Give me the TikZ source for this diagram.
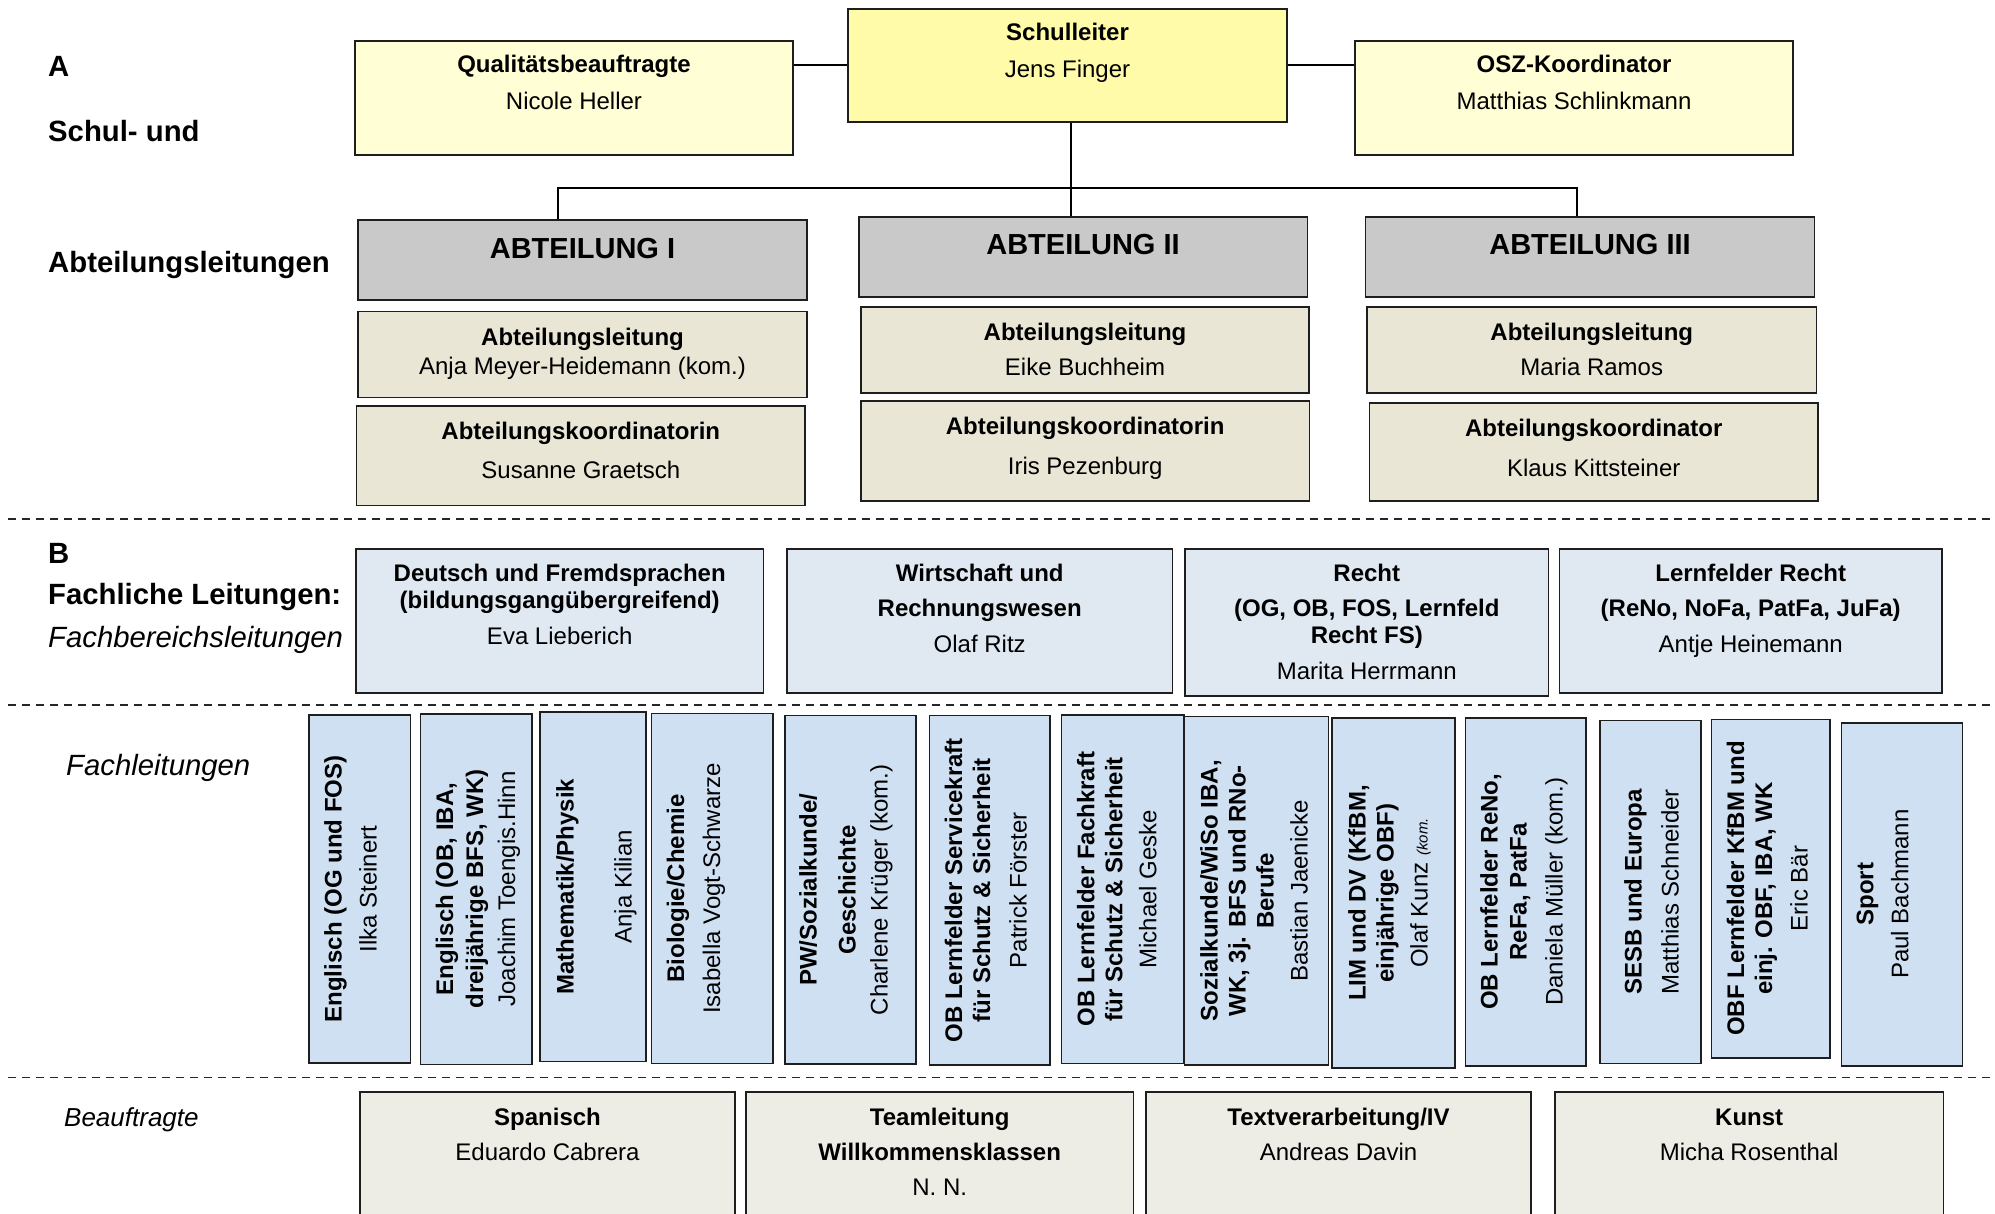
\documentclass[tikz,border=0pt]{standalone}
\usepackage{fontspec}
\setmainfont{Liberation Sans}
\usetikzlibrary{fit}
\definecolor{slyellow}{RGB}{255,251,168}
\definecolor{qyellow}{RGB}{255,254,212}
\definecolor{abtgray}{RGB}{201,201,201}
\definecolor{beigec}{RGB}{233,230,213}
\definecolor{bblue}{RGB}{224,232,242}
\definecolor{fblue}{RGB}{207,224,242}
\definecolor{bottomc}{RGB}{238,237,229}
\definecolor{edgec}{RGB}{30,30,30}
\newcommand\hs{\rule{0pt}{19pt}}
\begin{document}
\begin{tikzpicture}[x=1pt,y=-1pt,
  box/.style={draw=edgec, line width=1.6pt, inner sep=0pt},
  ht/.style={align=center, inner sep=0pt, anchor=north, font=\fontsize{24}{27}\selectfont},
  vt/.style={align=center, inner sep=0pt, anchor=north, rotate=90, font=\fontsize{24}{28}\selectfont},
  lab/.style={anchor=west, inner sep=0pt, text height=20.8pt, text depth=0pt, font=\bfseries\fontsize{29.3}{34}\selectfont},
  ilab/.style={anchor=west, inner sep=0pt, text height=20.8pt, text depth=0pt, font=\itshape\fontsize{29.3}{34}\selectfont},
  abtt/.style={inner sep=0pt, text height=20.8pt, text depth=0pt, font=\bfseries\fontsize{29}{34}\selectfont},
  conn/.style={line width=2pt, draw=black},
  sepline/.style={line width=1.5pt, dash pattern=on 8pt off 6pt, draw=black!85}
]
\useasboundingbox (0,0) rectangle (1995,1214);
\fill[white] (0,0) rectangle (1995,1214);
\clip (0,0) rectangle (1995,1214);

% left labels
\node[lab] (lA) at (48,66) {A};
\node[lab] (lSchul) at (48,131.5) {Schul- und};
\node[lab] (lAbt) at (48,262.5) {Abteilungsleitungen};
\node[lab] (lB) at (48,553) {B};
\node[lab] (lFach) at (48,594) {Fachliche Leitungen:};
\node[ilab] (lFB) at (48,637) {Fachbereichsleitungen};
\node[ilab] (lFL) at (66,765) {Fachleitungen};
\node[ilab, font=\itshape\fontsize{26}{30}\selectfont, text height=18.6pt] (lBe) at (64,1117) {Beauftragte};

% top
\node[box, fill=qyellow, fit={(355,41)(793,155)}] (qual) {};
\node[box, fill=slyellow, fit={(848,9)(1287,122)}] (sl) {};
\node[box, fill=qyellow, fit={(1355,41)(1793,155)}] (osz) {};
\node[ht] (qual-t) at (574,53.6) {\hs\textbf{Qualitätsbeauftragte}\\[10pt]Nicole Heller};
\node[ht] (sl-t) at (1067.5,21.6) {\hs\textbf{Schulleiter}\\[10pt]Jens Finger};
\node[ht] (osz-t) at (1574,53.6) {\hs\textbf{OSZ-Koordinator}\\[10pt]Matthias Schlinkmann};

% Abteilungen
\node[box, fill=abtgray, fit={(358,220)(807,300)}] (abt1) {};
\node[box, fill=abtgray, fit={(859,217)(1307.5,297)}] (abt2) {};
\node[box, fill=abtgray, fit={(1365.5,217)(1814.5,297)}] (abt3) {};
\node[abtt] (abt1-t) at (582.5,248) {ABTEILUNG I};
\node[abtt] (abt2-t) at (1083,244.5) {ABTEILUNG II};
\node[abtt] (abt3-t) at (1590,244.5) {ABTEILUNG III};

\node[box, fill=beigec, fit={(358,311.5)(807,397.5)}] (al1) {};
\node[box, fill=beigec, fit={(861,307)(1309,393)}] (al2) {};
\node[box, fill=beigec, fit={(1367,307)(1816.5,393)}] (al3) {};
\node[ht] (al1-t) at (582.5,326.6) {\hs\textbf{Abteilungsleitung}\\[1.5pt]Anja Meyer-Heidemann (kom.)};
\node[ht] (al2-t) at (1085,321.1) {\hs\textbf{Abteilungsleitung}\\[8pt]Eike Buchheim};
\node[ht] (al3-t) at (1591.75,321.1) {\hs\textbf{Abteilungsleitung}\\[8pt]Maria Ramos};

\node[box, fill=beigec, fit={(356.5,406)(805,505.5)}] (ko1) {};
\node[box, fill=beigec, fit={(861,401)(1309.5,501)}] (ko2) {};
\node[box, fill=beigec, fit={(1369.5,403)(1818,501)}] (ko3) {};
\node[ht] (ko1-t) at (580.8,420.6) {\hs\textbf{Abteilungskoordinatorin}\\[12pt]Susanne Graetsch};
\node[ht] (ko2-t) at (1085.2,415.6) {\hs\textbf{Abteilungskoordinatorin}\\[13pt]Iris Pezenburg};
\node[ht] (ko3-t) at (1593.7,417.6) {\hs\textbf{Abteilungskoordinator}\\[13pt]Klaus Kittsteiner};

% connectors
\coordinate (jc) at (1071,188);
\coordinate (b1) at (558,188);
\coordinate (b3) at (1577,188);
\draw[conn] (sl.west) -- (sl.west -| qual.east);
\draw[conn] (sl.east) -- (sl.east -| osz.west);
\draw[conn] (jc |- sl.south) -- (jc |- abt2.north);
\draw[conn] (b1 |- abt1.north) -- (b1) -- (b3) -- (b3 |- abt3.north);

% separators
\draw[sepline] (8,519) -- (1995,519);
\draw[sepline] (8,705) -- (1995,705);
\draw[sepline] (8,1077.5) -- (1995,1077.5);

% Fachbereichsleitungen
\node[box, fill=bblue, fit={(356,549)(763.5,693)}] (fb1) {};
\node[box, fill=bblue, fit={(787,549)(1172.5,693)}] (fb2) {};
\node[box, fill=bblue, fit={(1185,549)(1548.5,696)}] (fb3) {};
\node[box, fill=bblue, fit={(1559.5,549)(1942,693)}] (fb4) {};
\node[ht] (fb1-t) at (559.7,562.1) {\hs\textbf{Deutsch und Fremdsprachen}\\\textbf{(bildungsgangübergreifend)}\\[9pt]Eva Lieberich};
\node[ht] (fb2-t) at (979.7,562.1) {\hs\textbf{Wirtschaft und}\\[8.5pt]\textbf{Rechnungswesen}\\[9pt]Olaf Ritz};
\node[ht] (fb3-t) at (1366.8,562.1) {\hs\textbf{Recht}\\[8.5pt]\textbf{(OG, OB, FOS, Lernfeld}\\\textbf{Recht FS)}\\[8.5pt]Marita Herrmann};
\node[ht] (fb4-t) at (1750.7,562.1) {\hs\textbf{Lernfelder Recht}\\[8.5pt]\textbf{(ReNo, NoFa, PatFa, JuFa)}\\[9pt]Antje Heinemann};

% Fachleitungen (vertical)
\node[box, fill=fblue, fit={(309,715)(410.5,1063)}] (v1) {};
\node[box, fill=fblue, fit={(420.5,714)(532,1064.3)}] (v2) {};
\node[box, fill=fblue, fit={(540,712)(646,1061.5)}] (v3) {};
\node[box, fill=fblue, fit={(651.5,713.5)(773,1063.3)}] (v4) {};
\node[box, fill=fblue, fit={(785,715.5)(916,1064)}] (v5) {};
\node[box, fill=fblue, fit={(929.6,715.5)(1050,1065)}] (v6) {};
\node[box, fill=fblue, fit={(1061.4,715)(1184,1063.3)}] (v7) {};
\node[box, fill=fblue, fit={(1184.6,716.5)(1328.6,1065)}] (v8) {};
\node[box, fill=fblue, fit={(1332,718)(1455,1068)}] (v9) {};
\node[box, fill=fblue, fit={(1465.5,717.7)(1586,1065.7)}] (v10) {};
\node[box, fill=fblue, fit={(1600,720.5)(1701,1063.3)}] (v11) {};
\node[box, fill=fblue, fit={(1711.5,719.3)(1830,1057.7)}] (v12) {};
\node[box, fill=fblue, fit={(1841.4,722.7)(1962.5,1065.7)}] (v13) {};

\node[vt] (v1-t) at (322.4,889) {\hs\textbf{Englisch (OG und FOS)}\\[7pt]Ilka Steinert};
\node[vt] (v2-t) at (434,889) {\hs\textbf{Englisch (OB, IBA,}\\[2pt]\textbf{dreijährige BFS, WK)}\\[4pt]Joachim Toengis.Hinn};
\node[vt] (v3-t) at (554.4,886.8) {\hs\textbf{Mathematik/Physik}\\[30pt]Anja Kilian};
\node[vt] (v4-t) at (664.9,888.4) {\hs\textbf{Biologie/Chemie}\\[8pt]Isabella Vogt-Schwarze};
\node[vt] (v5-t) at (797.4,889.8) {\hs\textbf{PW/Sozialkunde/}\\[11pt]\textbf{Geschichte}\\[4pt]Charlene Krüger (kom.)};
\node[vt] (v6-t) at (943,890.3) {\hs\textbf{OB Lernfelder Servicekraft}\\\textbf{für Schutz \& Sicherheit}\\[8.5pt]Patrick Förster};
\node[vt] (v7-t) at (1075.1,889.2) {\hs\textbf{OB Lernfelder Fachkraft}\\\textbf{für Schutz \& Sicherheit}\\[6pt]Michael Geske};
\node[vt] (v8-t) at (1198.4,890.8) {\hs\textbf{Sozialkunde/WiSo IBA,}\\\textbf{WK, 3j. BFS und RNo-}\\\textbf{Berufe}\\[6pt]Bastian Jaenicke};
\node[vt] (v9-t) at (1346.4,893) {\hs\textbf{LIM und DV (KfBM,}\\\textbf{einjährige OBF)}\\[6pt]Olaf Kunz {\fontsize{15}{15}\selectfont\itshape (kom.}};
\node[vt] (v10-t) at (1478.4,891.7) {\hs\textbf{OB Lernfelder ReNo,}\\[1pt]\textbf{ReFa, PatFa}\\[8pt]Daniela Müller (kom.)};
\node[vt] (v11-t) at (1622.4,891.9) {\hs\textbf{SESB und Europa}\\[9pt]Matthias Schneider};
\node[vt] (v12-t) at (1725,888.5) {\hs\textbf{OBF Lernfelder KfBM und}\\\textbf{einj. OBF, IBA, WK}\\[7.5pt]Eric Bär};
\node[vt] (v13-t) at (1854.2,894.2) {\hs\textbf{Sport}\\[7pt]Paul Bachmann};

% Beauftragte
\node[box, fill=bottomc, fit={(360,1092)(735,1240)}] (bs1) {};
\node[box, fill=bottomc, fit={(746,1092)(1133.5,1240)}] (bs2) {};
\node[box, fill=bottomc, fit={(1146,1092)(1531,1240)}] (bs3) {};
\node[box, fill=bottomc, fit={(1555,1092)(1943.5,1240)}] (bs4) {};
\node[ht] (bs1-t) at (547.5,1106.6) {\hs\textbf{Spanisch}\\[8pt]Eduardo Cabrera};
\node[ht] (bs2-t) at (939.7,1106.6) {\hs\textbf{Teamleitung}\\[8pt]\textbf{Willkommensklassen}\\[8pt]N. N.};
\node[ht] (bs3-t) at (1338.5,1106.6) {\hs\textbf{Textverarbeitung/IV}\\[8pt]Andreas Davin};
\node[ht] (bs4-t) at (1749.2,1106.6) {\hs\textbf{Kunst}\\[8pt]Micha Rosenthal};
\end{tikzpicture}
\end{document}
